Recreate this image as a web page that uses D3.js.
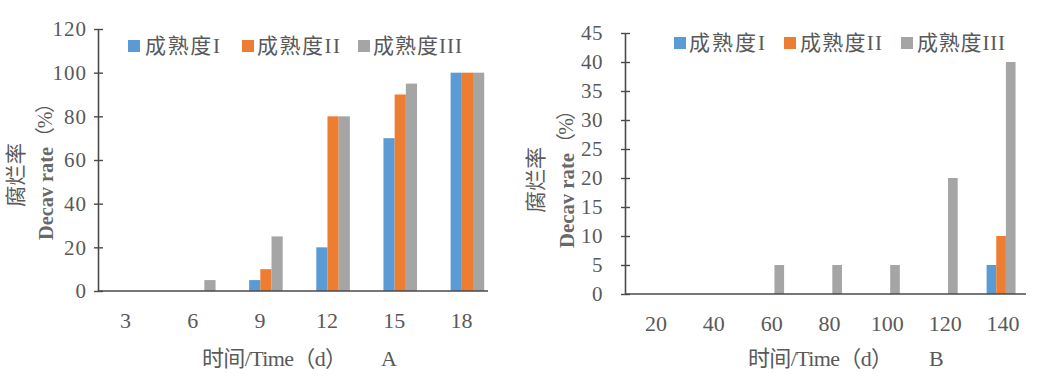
<!DOCTYPE html>
<html>
<head>
<meta charset="utf-8">
<script src="https://cdn.jsdelivr.net/npm/d3@7"></script>
<style>
  html, body { margin: 0; padding: 0; background: #fff; }
  svg { display: block; }
  svg text { fill: #595959; font-family: "Liberation Serif", "Times New Roman", "Noto Sans CJK SC", serif !important; }
</style>
</head>
<body>
<svg id="chart" width="1039" height="377"></svg>
<script>
// ---------- data ----------
const seriesNames = ["成熟度I", "成熟度II", "成熟度III"];
const seriesColors = ["#5B9BD5", "#ED7D31", "#A5A5A5"];

const categoriesA = ["3", "6", "9", "12", "15", "18"];
const maturityI_A = [0, 0, 5, 20, 70, 100];
const maturityII_A = [0, 0, 10, 80, 90, 100];
const maturityIII_A = [0, 5, 25, 80, 95, 100];
const yTicksA = [0, 20, 40, 60, 80, 100, 120];

const categoriesB = ["20", "40", "60", "80", "100", "120", "140"];
const maturityI_B = [0, 0, 0, 0, 0, 0, 5];
const maturityII_B = [0, 0, 0, 0, 0, 0, 10];
const maturityIII_B = [0, 0, 5, 5, 5, 20, 40];
const yTicksB = [0, 5, 10, 15, 20, 25, 30, 35, 40, 45];

const yTitleCN = "腐烂率";
const yTitleEN = "Decav rate";
const yTitleUnit = "（%）";
const xTitle = "时间/Time（d）";

// ---------- layout ----------
const svg = d3.select("#chart");

const panels = [
  {
    cats: categoriesA, series: [maturityI_A, maturityII_A, maturityIII_A],
    yMax: 120, yTicks: yTicksA, label: "A",
    x0: 98, x1: 501, axisEnd: 488, yBottom: 291, yTop: 29,
    yTickPad: 11, yTickFont: 21, yTickSpacing: 1, xLabelDx: -6, xLabelY: 328,
    titleCN: { x: 16, y: 175, len: 64 }, titleEN: { x: 45, y0: 240, y1: 147, y2: 93 },
    xTitleX: 202, xTitleLen: 145, letterX: 381, xTitleY: 366,
    legendSq: [128, 242, 358], legendTx: [145, 257, 373], legendLen: [75, 83, 89], legendY: 46
  },
  {
    cats: categoriesB, series: [maturityI_B, maturityII_B, maturityIII_B],
    yMax: 45, yTicks: yTicksB, label: "B",
    x0: 625, x1: 1030, axisEnd: 1026, yBottom: 294, yTop: 33,
    yTickPad: 22, yTickFont: 21, yTickSpacing: 0.5, xLabelDx: 2, xLabelY: 331,
    titleCN: { x: 536, y: 180, len: 66 }, titleEN: { x: 566, y0: 248, y1: 153, y2: 100 },
    xTitleX: 748, xTitleLen: 145, letterX: 929, xTitleY: 366,
    legendSq: [674, 784, 901], legendTx: [689, 800, 917], legendLen: [76, 82, 88], legendY: 43
  }
];

panels.forEach(p => {
  const g = svg.append("g");

  const x = d3.scaleBand().domain(p.cats).range([p.x0, p.x1]).padding(0);
  const bw = x.bandwidth();
  const xs = d3.scaleBand().domain(d3.range(seriesNames.length))
    .range([bw * 0.25, bw * 0.75]).padding(0);
  const y = d3.scaleLinear().domain([0, p.yMax]).range([p.yBottom, p.yTop]);

  // bars
  p.series.forEach((vals, si) => {
    g.append("g").selectAll("rect")
      .data(vals.map((v, i) => ({ c: p.cats[i], v })))
      .join("rect")
      .attr("x", d => x(d.c) + xs(si))
      .attr("width", xs.bandwidth())
      .attr("y", d => y(d.v))
      .attr("height", d => y(0) - y(d.v))
      .attr("fill", seriesColors[si]);
  });

  // y axis
  const ya = g.append("g")
    .attr("transform", `translate(${p.x0},0)`)
    .call(d3.axisLeft(y).tickValues(p.yTicks).tickSize(0).tickSizeOuter(0).tickPadding(p.yTickPad));
  ya.attr("font-family", null);
  ya.select(".domain").attr("stroke", "#4a4a4a").attr("stroke-width", 1.6);
  ya.selectAll(".tick").append("line")
    .attr("x1", -4).attr("x2", 5).attr("stroke", "#4a4a4a").attr("stroke-width", 1.4);
  ya.selectAll(".tick text")
    .attr("font-size", p.yTickFont)
    .attr("letter-spacing", p.yTickSpacing)
    .attr("fill", "#595959");

  // x axis
  const xa = g.append("g")
    .attr("transform", `translate(0,${p.yBottom})`)
    .call(d3.axisBottom(x).tickSize(0).tickSizeOuter(0));
  xa.attr("font-family", null);
  xa.select(".domain").remove();
  xa.selectAll(".tick text")
    .attr("font-size", 22)
    .attr("dx", p.xLabelDx)
    .attr("y", p.xLabelY - p.yBottom)
    .attr("dy", 0)
    .attr("fill", "#595959");
  g.append("line")
    .attr("x1", p.x0).attr("x2", p.axisEnd)
    .attr("y1", y(0)).attr("y2", y(0))
    .attr("stroke", "#4a4a4a").attr("stroke-width", 1.6);

  // y titles
  g.append("text")
    .attr("transform", `translate(${p.titleCN.x},${p.titleCN.y}) rotate(-90)`)
    .attr("text-anchor", "middle").attr("dominant-baseline", "central")
    .attr("font-size", 21)
    .attr("textLength", p.titleCN.len).attr("lengthAdjust", "spacingAndGlyphs")
    .text(yTitleCN);
  g.append("text")
    .attr("transform", `translate(${p.titleEN.x},${p.titleEN.y0}) rotate(-90)`)
    .attr("dominant-baseline", "central")
    .attr("font-size", 22).attr("font-weight", "bold").attr("fill-opacity", 0.92)
    .attr("textLength", p.titleEN.y0 - p.titleEN.y1).attr("lengthAdjust", "spacingAndGlyphs")
    .text(yTitleEN);
  g.append("text")
    .attr("transform", `translate(${p.titleEN.x},${p.titleEN.y1}) rotate(-90)`)
    .attr("dominant-baseline", "central")
    .attr("font-size", 20)
    .attr("textLength", p.titleEN.y1 - p.titleEN.y2).attr("lengthAdjust", "spacing")
    .text(yTitleUnit);

  // x title
  g.append("text").attr("x", p.xTitleX).attr("y", p.xTitleY)
    .attr("font-size", 22)
    .attr("textLength", p.xTitleLen).attr("lengthAdjust", "spacing")
    .text(xTitle);
  g.append("text").attr("x", p.letterX).attr("y", p.xTitleY)
    .attr("font-size", 22).text(p.label);

  // legend
  seriesNames.forEach((name, i) => {
    g.append("rect")
      .attr("x", p.legendSq[i]).attr("y", p.legendY - 6)
      .attr("width", 12).attr("height", 12)
      .attr("fill", seriesColors[i]);
    g.append("text")
      .attr("x", p.legendTx[i]).attr("y", p.legendY)
      .attr("dominant-baseline", "central")
      .attr("font-size", 21)
      .attr("textLength", p.legendLen[i]).attr("lengthAdjust", "spacing")
      .text(name);
  });
});
</script>
</body>
</html>
